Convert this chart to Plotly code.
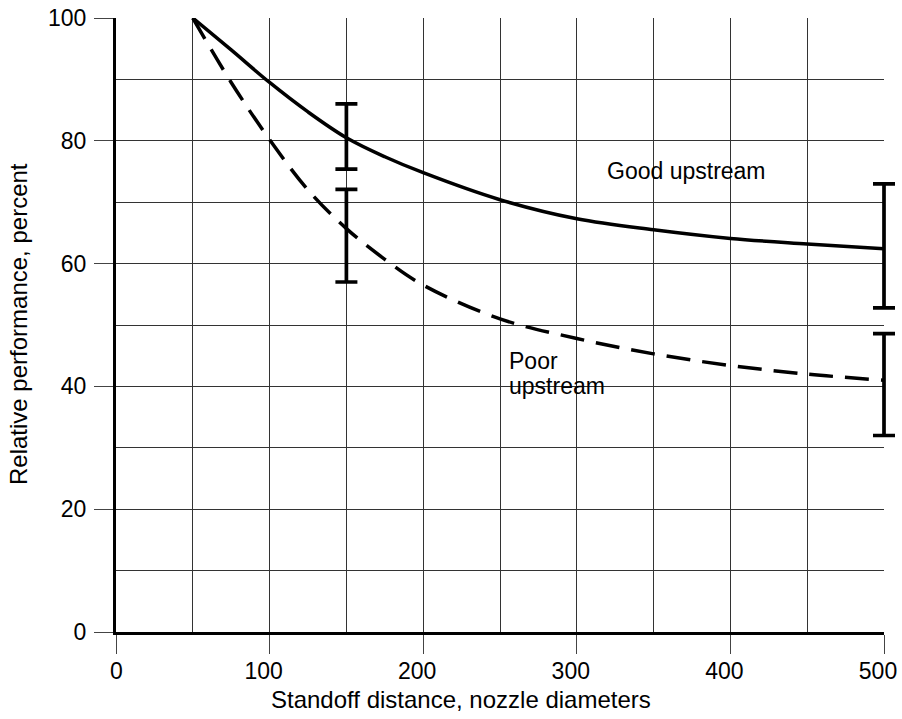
import plotly.graph_objects as go

# Data
good_x = [50, 75, 100, 125, 150, 175, 200, 250, 300, 350, 400, 450, 500]
good_y = [100, 94.8, 89.5, 84.7, 80.5, 77.4, 74.8, 70.4, 67.3, 65.5, 64.1, 63.2, 62.4]
poor_x = [50, 75, 100, 125, 150, 175, 200, 250, 300, 350, 400, 450, 500]
poor_y = [100, 89.5, 80.2, 72.0, 65.7, 60.7, 56.5, 51.0, 47.8, 45.3, 43.4, 42.0, 41.0]

err_x = [150, 150, 500, 500]
err_low = [75.4, 57.0, 52.8, 32.0]
err_high = [86.0, 72.1, 73.0, 48.6]

x_ticks = [0, 100, 200, 300, 400, 500]
x_tick_labels = ["0", "100", "200", "300", "400", "500"]
y_ticks = [0, 20, 40, 60, 80, 100]

FONT = "Liberation Sans, Arial, sans-serif"
FS = 23
FS_TITLE = 24

W, H = 902, 719
L, R, T, B = 116, 7, 18, 87          # outer frame (error-bar layer)
PLOT_W = 768                          # main plot width in px
paper_w = W - L - R
main_frac = PLOT_W / paper_w
X_MAX = 500

err_mid = [(lo + hi) / 2 for lo, hi in zip(err_low, err_high)]
err_half = [(hi - lo) / 2 for lo, hi in zip(err_low, err_high)]
# in the original the multi-digit labels sit ~6px left of their ticks, "0" is centred
x_tick_text = ["\u00a0\u00a0" + t if len(t) < 2 else t for t in x_tick_labels]

fig = go.Figure()
fig.add_trace(go.Scatter(x=good_x, y=good_y, mode="lines",
                         line=dict(color="black", width=3.5, shape="spline"),
                         cliponaxis=False, showlegend=False, hoverinfo="skip"))
fig.add_trace(go.Scatter(x=poor_x, y=poor_y, mode="lines",
                         line=dict(color="black", width=3.5, shape="spline", dash="24px,12px"),
                         cliponaxis=False, showlegend=False, hoverinfo="skip"))
# error bars on a second subplot with identical scales, wider clip so caps at x=500 show fully
fig.add_trace(go.Scatter(x=err_x, y=err_mid, mode="markers", xaxis="x2", yaxis="y2",
                         marker=dict(size=1, opacity=0),
                         error_y=dict(type="data", array=err_half, symmetric=True,
                                      color="black", thickness=3.7, width=11),
                         cliponaxis=False, showlegend=False, hoverinfo="skip"))

axis_common = dict(ticks="outside", ticklen=19, tickwidth=1, tickcolor="#444",
                   showgrid=True, gridcolor="#333", gridwidth=1, zeroline=False,
                   showline=True, linecolor="black", linewidth=3,
                   automargin=False,
                   tickfont=dict(family=FONT, size=FS, color="black"))

fig.update_layout(
    width=W, height=H,
    margin=dict(l=L, r=R, t=T, b=B, autoexpand=False),
    paper_bgcolor="white", plot_bgcolor="rgba(0,0,0,0)",
    font=dict(family=FONT, size=FS, color="black"),
    xaxis=dict(range=[0, X_MAX], tickvals=x_ticks, ticktext=x_tick_text,
               domain=[0, main_frac], ticklabelstandoff=-3, ticklabelshift=-6,
               ticklabeloverflow="allow",
               minor=dict(dtick=50, tick0=0, showgrid=True, gridcolor="#333",
                          gridwidth=1, ticks=""),
               **axis_common),
    yaxis=dict(range=[0, 100], tickvals=y_ticks, ticklabelstandoff=3,
               minor=dict(dtick=10, tick0=0, showgrid=True, gridcolor="#333",
                          gridwidth=1, ticks=""),
               **axis_common),
    xaxis2=dict(range=[0, X_MAX / main_frac], domain=[0, 1], anchor="y2",
                visible=False, fixedrange=True, showgrid=False),
    yaxis2=dict(range=[0, 100], domain=[0, 1], anchor="x2",
                visible=False, fixedrange=True, showgrid=False),
    annotations=[
        dict(x=318.4, y=75.1, xref="x", yref="y", text="Good upstream",
             showarrow=False, xanchor="left", yanchor="middle",
             font=dict(family=FONT, size=FS, color="black")),
        dict(x=254.4, y=44.2, xref="x", yref="y", text="Poor",
             showarrow=False, xanchor="left", yanchor="middle",
             font=dict(family=FONT, size=FS, color="black")),
        dict(x=254.4, y=40.0, xref="x", yref="y", text="upstream",
             showarrow=False, xanchor="left", yanchor="middle",
             font=dict(family=FONT, size=FS, color="black")),
        dict(x=(461 - L) / paper_w, y=(632 - 699) / 614, xref="paper", yref="paper",
             text="Standoff distance, nozzle diameters", showarrow=False,
             xanchor="center", yanchor="middle",
             font=dict(family=FONT, size=FS_TITLE, color="black")),
        dict(x=(18 - L) / paper_w, y=(632 - 324) / 614, xref="paper", yref="paper",
             text="Relative performance, percent", showarrow=False, textangle=-90,
             xanchor="center", yanchor="middle",
             font=dict(family=FONT, size=FS_TITLE, color="black")),
    ],
)

fig.write_html("out.html")
